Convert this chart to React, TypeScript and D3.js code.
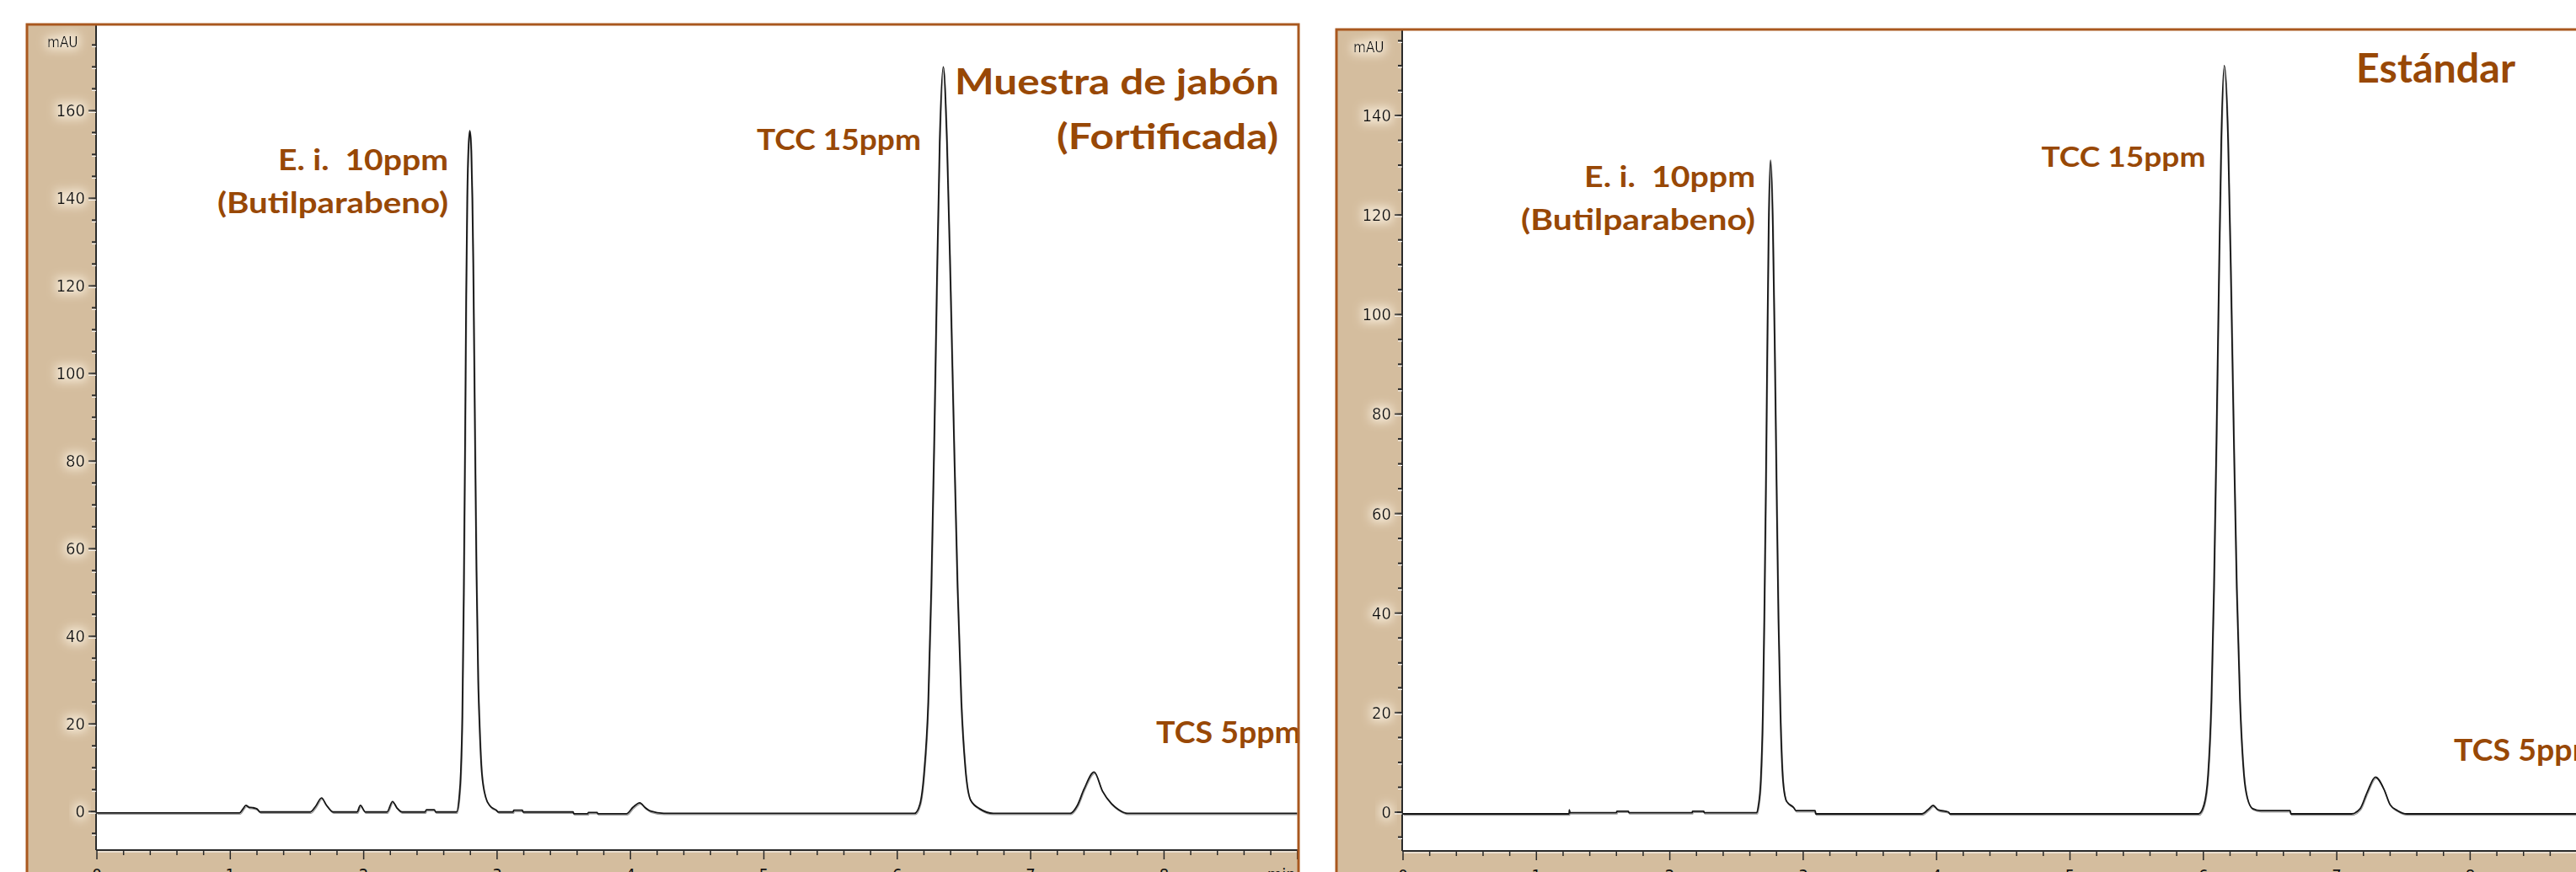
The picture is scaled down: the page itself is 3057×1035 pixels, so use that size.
import React from "react";
import * as d3 from "d3";

const WIDTH = 3057;
const HEIGHT = 1035;

// retention time (min), absorbance (mAU)
const sampleTrace: [number, number][] = [
  [0, -0.3], [1.07, -0.3], [1.095, 0.6], [1.117, 1.4], [1.14, 1.0], [1.165, 0.9],
  [1.2, 0.6], [1.224, -0.1], [1.6, -0.1], [1.64, 1.2], [1.684, 3.1], [1.72, 1.5],
  [1.772, -0.1], [1.95, -0.1], [1.975, 1.4], [2.013, -0.1], [2.175, -0.1], [2.216, 2.3],
  [2.25, 0.8], [2.288, -0.1], [2.46, -0.1], [2.47, 0.4], [2.53, 0.4], [2.54, -0.1],
  [2.696, -0.1], [2.716, 3.3], [2.728, 9], [2.739, 21.8], [2.75, 50], [2.76, 85],
  [2.768, 118], [2.776, 140], [2.786, 152], [2.796, 155.4], [2.806, 151], [2.814, 140],
  [2.821, 125], [2.832, 92], [2.845, 55], [2.858, 30], [2.868, 20], [2.885, 9],
  [2.915, 3.2], [2.947, 1.3], [2.995, 0.3], [3.01, -0.1], [3.12, -0.1], [3.125, 0.3],
  [3.19, 0.3], [3.195, -0.1], [3.57, -0.1], [3.575, -0.5], [3.68, -0.5], [3.685, -0.2],
  [3.75, -0.2], [3.755, -0.5], [3.97, -0.5], [4.02, 1.0], [4.07, 2.0], [4.11, 0.9],
  [4.15, 0.1], [4.25, -0.4], [6.13, -0.4], [6.17, 1.7], [6.2, 8.5], [6.232, 25],
  [6.255, 51], [6.277, 85], [6.296, 119], [6.318, 153], [6.345, 170], [6.372, 153],
  [6.4, 119], [6.425, 85], [6.452, 51], [6.48, 25], [6.51, 10], [6.55, 2.6],
  [6.62, 0.6], [6.72, -0.4], [7.298, -0.4], [7.35, 1.4], [7.4, 5.1], [7.476, 9.0],
  [7.538, 4.7], [7.606, 1.8], [7.657, 0.5], [7.726, -0.4], [9, -0.4],
];

// retention time (min), absorbance (mAU)
const standardTrace: [number, number][] = [
  [0, -0.34], [1.245, -0.34], [1.247, 0.5], [1.25, -0.1], [1.6, -0.1], [1.603, 0.2],
  [1.69, 0.2], [1.693, -0.1], [2.168, -0.1], [2.17, 0.2], [2.255, 0.2], [2.258, -0.1],
  [2.652, -0.1], [2.664, 1.3], [2.682, 6.5], [2.697, 19.7], [2.708, 39], [2.72, 65.5],
  [2.73, 92], [2.741, 118], [2.755, 131], [2.772, 118], [2.787, 92], [2.8, 65.5],
  [2.814, 39], [2.829, 19.7], [2.848, 6.5], [2.87, 2.5], [2.884, 1.9], [2.93, 0.9],
  [2.945, 0.3], [3.09, 0.3], [3.093, -0.34], [3.89, -0.34], [3.94, 0.6], [3.974, 1.35],
  [4.01, 0.5], [4.09, 0.0], [4.1, -0.34], [5.965, -0.34], [6.005, 1.5], [6.035, 7.5],
  [6.06, 22.5], [6.079, 45], [6.098, 75], [6.115, 105], [6.134, 135], [6.157, 150],
  [6.185, 135], [6.208, 105], [6.228, 75], [6.25, 45], [6.274, 22.5], [6.304, 7.5],
  [6.329, 2.9], [6.37, 0.7], [6.43, 0.3], [6.651, 0.3], [6.655, -0.34], [7.11, -0.34],
  [7.175, 0.7], [7.228, 4.0], [7.29, 7.06], [7.354, 4.6], [7.4, 1.5], [7.456, 0.3],
  [7.525, -0.34], [9, -0.34],
];

const xTickLabels = ["0", "1", "2", "3", "4", "5", "6", "7", "8"];
const sampleYTicks = [0, 20, 40, 60, 80, 100, 120, 140, 160];
const standardYTicks = [0, 20, 40, 60, 80, 100, 120, 140];

const sampleLabels = ["E. i.  10ppm", "(Butilparabeno)", "TCC 15ppm", "Muestra de jabón", "(Fortificada)", "TCS 5ppm"];
const standardLabels = ["E. i.  10ppm", "(Butilparabeno)", "TCC 15ppm", "Estándar", "TCS 5ppm"];

// where each label sits, in data units of its panel (same order as the label lists)
const sampleLabelLayout = [
  { t: 2.634, v: 146.4, anchor: "end", size: 35, w: 202 },
  { t: 2.634, v: 136.6, anchor: "end", size: 35, w: 274 },
  { t: 4.946, v: 151.0, anchor: "start", size: 35, w: 195 },
  { t: 6.431, v: 163.7, anchor: "start", size: 42, w: 385 },
  { t: 8.857, v: 151.2, anchor: "end", size: 42, w: 263 },
  { t: 7.941, v: 15.6, anchor: "start", size: 36, w: 172 },
];
const standardLabelLayout = [
  { t: 2.641, v: 125.6, anchor: "end", size: 35, w: 203 },
  { t: 2.641, v: 117.0, anchor: "end", size: 35, w: 278 },
  { t: 4.785, v: 129.7, anchor: "start", size: 33, w: 195 },
  { t: 7.145, v: 146.6, anchor: "start", size: 47, w: 189 },
  { t: 7.878, v: 10.3, anchor: "start", size: 36, w: 172 },
];

const TAN = "#d4bd9e";
const BORDER = "#a9581f";
const NOTE = "#984806";
const AXIS = "#2a2a2a";
const TICK_FONT = "'Liberation Sans Narrow', 'DejaVu Sans Condensed', 'Liberation Sans', sans-serif";

type PanelProps = {
  id: string;
  trace: [number, number][];
  yTicks: number[];
  frame: { x: number; y: number; right: number };
  plot: { left: number; right: number; top: number; bottom: number };
  yDomain: [number, number];
  labels: string[];
  layout: { t: number; v: number; anchor: string; size: number; w: number }[];
};

function Panel({ id, trace, yTicks, frame, plot, yDomain, labels, layout }: PanelProps) {
  const x = d3.scaleLinear().domain([0, 9]).range([plot.left, plot.right]);
  const y = d3.scaleLinear().domain(yDomain).range([plot.bottom, plot.top]);

  const path = d3
    .line<[number, number]>()
    .x((d) => x(d[0]))
    .y((d) => y(d[1]))
    .curve(d3.curveMonotoneX)(trace);

  const minorY = d3.range(-5, yDomain[1], 5).filter((v) => v > yDomain[0] && v % 20 !== 0);
  const minorX = d3.range(0, 9.001, 0.2).filter((t) => Math.abs(t - Math.round(t)) > 0.01);

  return (
    <g>
      <defs>
        <clipPath id={"clip-" + id}>
          <rect x={plot.left} y={plot.top} width={plot.right - plot.left} height={plot.bottom - plot.top} />
        </clipPath>
      </defs>
      {/* tan axis strips */}
      <rect x={frame.x} y={frame.y} width={plot.left - frame.x} height={HEIGHT - frame.y} fill={TAN} />
      <rect x={frame.x} y={plot.bottom} width={frame.right - frame.x} height={HEIGHT - plot.bottom} fill={TAN} />
      <rect x={plot.left} y={plot.top - 2} width={frame.right - plot.left} height={plot.bottom - plot.top + 2} fill="#fff" />

      {/* y axis */}
      <line x1={plot.left - 1} x2={plot.left - 1} y1={frame.y} y2={plot.bottom} stroke={AXIS} strokeWidth={2} />
      {minorY.map((v) => (
        <g key={"my" + v}>
          <line x1={plot.left - 6} x2={plot.left - 1} y1={y(v)} y2={y(v)} stroke={AXIS} strokeWidth={2} />
          <line x1={plot.left - 6} x2={plot.left - 1} y1={y(v) + 2} y2={y(v) + 2} stroke="#fff" strokeWidth={1} />
        </g>
      ))}
      {yTicks.map((v) => (
        <g key={"y" + v}>
          <line x1={plot.left - 10} x2={plot.left - 1} y1={y(v)} y2={y(v)} stroke={AXIS} strokeWidth={2} />
          <line x1={plot.left - 10} x2={plot.left - 1} y1={y(v) + 2} y2={y(v) + 2} stroke="#fff" strokeWidth={1} />
          <text
            x={plot.left - 14}
            y={y(v)}
            textAnchor="end"
            dominantBaseline="central"
            fontFamily={TICK_FONT}
            fontSize={20}
            fill="#111"
            filter="url(#glow)"
          >
            {v}
          </text>
        </g>
      ))}
      <text x={plot.left - 59} y={frame.y + 27} fontFamily={TICK_FONT} fontSize={17} fill="#111" filter="url(#glow)">
        mAU
      </text>

      {/* x axis */}
      <line x1={plot.left - 1} x2={frame.right} y1={plot.bottom} y2={plot.bottom} stroke={AXIS} strokeWidth={2} />
      <line x1={plot.left - 1} x2={frame.right} y1={plot.bottom + 2} y2={plot.bottom + 2} stroke="#fff" strokeWidth={1} />
      {minorX.map((t) => (
        <line key={"mx" + t} x1={x(t)} x2={x(t)} y1={plot.bottom} y2={plot.bottom + 6} stroke={AXIS} strokeWidth={1.5} />
      ))}
      {xTickLabels.map((lab, i) => (
        <g key={"x" + lab}>
          <line x1={x(i)} x2={x(i)} y1={plot.bottom} y2={plot.bottom + 11} stroke={AXIS} strokeWidth={1.5} />
          <text x={x(i)} y={plot.bottom + 36} textAnchor="middle" fontFamily={TICK_FONT} fontSize={20} fill="#111">
            {lab}
          </text>
        </g>
      ))}
      <line x1={x(9)} x2={x(9)} y1={plot.bottom} y2={plot.bottom + 11} stroke={AXIS} strokeWidth={1.5} />
      <text x={x(9) - 2} y={plot.bottom + 36} textAnchor="end" fontFamily={TICK_FONT} fontSize={20} fill="#111">
        min
      </text>

      {/* trace */}
      <g clipPath={"url(#clip-" + id + ")"}>
        <path d={path || ""} fill="none" stroke="#9a9a9a" strokeWidth={1.2} transform="translate(0.8,1.6)" />
        <path d={path || ""} fill="none" stroke="#151515" strokeWidth={1.8} strokeLinejoin="round" />
      </g>

      {/* annotations */}
      {labels.map((lab, i) => {
        const l = layout[i];
        return (
          <text
            key={"n" + i}
            x={x(l.t)}
            y={y(l.v)}
            textAnchor={l.anchor as any}
            fontFamily="Lato, 'Open Sans', sans-serif"
            fontWeight={700}
            fontSize={l.size}
            fill={NOTE}
            textLength={l.w}
            lengthAdjust="spacingAndGlyphs"
            style={{ whiteSpace: "pre" }}
          >
            {lab}
          </text>
        );
      })}

      {/* frame */}
      <rect
        x={frame.x}
        y={frame.y}
        width={frame.right - frame.x}
        height={HEIGHT + 20 - frame.y}
        fill="none"
        stroke={BORDER}
        strokeWidth={3}
      />
    </g>
  );
}

export default function App() {
  return (
    <svg
      width={WIDTH}
      height={HEIGHT}
      viewBox={`0 0 ${WIDTH} ${HEIGHT}`}
      style={{ position: "absolute", left: 0, top: 0, background: "#fff" }}
    >
      <defs>
        <filter id="glow" x="-60%" y="-60%" width="220%" height="220%">
          <feMorphology in="SourceAlpha" operator="dilate" radius="3" result="d" />
          <feGaussianBlur in="d" stdDeviation="6" result="b" />
          <feFlood floodColor="#fff7e8" floodOpacity="0.75" />
          <feComposite in2="b" operator="in" result="g" />
          <feMerge>
            <feMergeNode in="g" />
            <feMergeNode in="SourceGraphic" />
          </feMerge>
        </filter>
      </defs>
      <rect width={WIDTH} height={HEIGHT} fill="#fff" />
      <Panel
        id="sample"
        trace={sampleTrace}
        yTicks={sampleYTicks}
        frame={{ x: 32, y: 29, right: 1541 }}
        plot={{ left: 115, right: 1539.7, top: 31, bottom: 1009 }}
        yDomain={[-8.8, 179.3]}
        labels={sampleLabels}
        layout={sampleLabelLayout}
      />
      <Panel
        id="standard"
        trace={standardTrace}
        yTicks={standardYTicks}
        frame={{ x: 1586, y: 35, right: 3092 }}
        plot={{ left: 1665, right: 3089.7, top: 37, bottom: 1010 }}
        yDomain={[-7.79, 156.93]}
        labels={standardLabels}
        layout={standardLabelLayout}
      />
    </svg>
  );
}
